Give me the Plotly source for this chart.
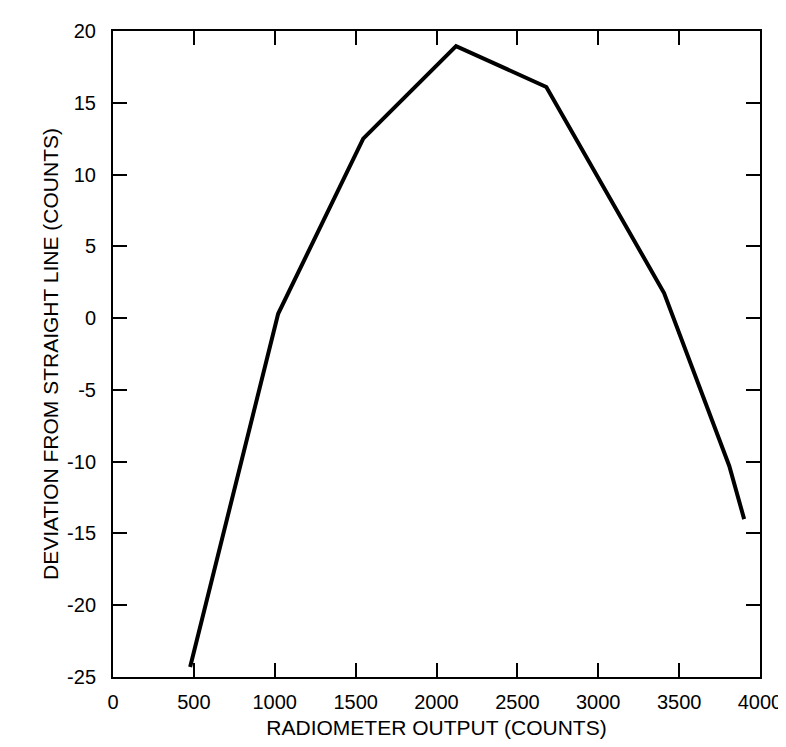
import plotly.graph_objects as go

# radiometer output (counts) vs deviation from straight line (counts)
radiometer_output = [477, 1021, 1547, 2121, 2679, 3407, 3810, 3902]
deviation = [-24.3, 0.3, 12.5, 18.95, 16.1, 1.75, -10.3, -14.0]

x_ticks = [0, 500, 1000, 1500, 2000, 2500, 3000, 3500, 4000]
y_ticks = [-25, -20, -15, -10, -5, 0, 5, 10, 15, 20]
y_tick_text = ['-25', '-20', '-15', '-10', '-5', '0', '5', '10', '15', '20']

font_family = "Liberation Sans, Arial, sans-serif"

fig = go.Figure()
fig.add_trace(go.Scatter(
    x=radiometer_output,
    y=deviation,
    mode='lines',
    line=dict(color='black', width=4),
    showlegend=False
))

axis_style = dict(
    showline=True,
    linecolor='black',
    linewidth=2,
    mirror='ticks',
    ticks='inside',
    ticklen=14,
    tickwidth=1.5,
    tickcolor='black',
    showgrid=False,
    zeroline=False,
    tickfont=dict(family=font_family, size=20, color='black'),
)

fig.update_layout(
    width=786,
    height=747,
    margin=dict(l=105, r=27, t=17, b=78),
    plot_bgcolor='white',
    paper_bgcolor='white',
    font=dict(family=font_family, size=20, color='black'),
    xaxis=dict(
        range=[0, 4000],
        tickvals=x_ticks,
        title=dict(text='RADIOMETER OUTPUT (COUNTS)', font=dict(size=21), standoff=8),
        ticklabelstandoff=6,
        **axis_style
    ),
    yaxis=dict(
        range=[-25, 20],
        tickvals=y_ticks,
        ticktext=y_tick_text,
        title=dict(text='DEVIATION FROM STRAIGHT LINE (COUNTS)', font=dict(size=21), standoff=3),
        ticklabelstandoff=11,
        **axis_style
    ),
)

fig.write_html("out.html")
